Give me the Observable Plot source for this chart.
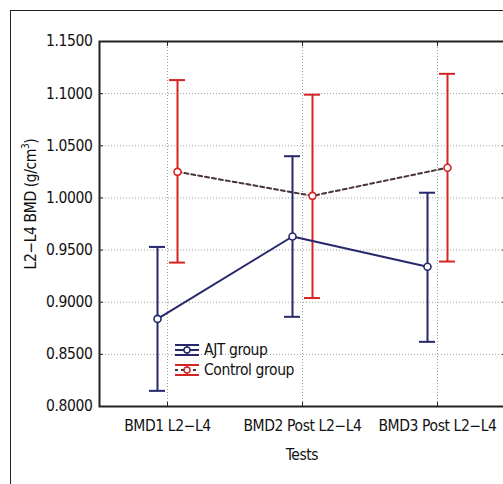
<!DOCTYPE html>
<html>
<head>
<meta charset="utf-8">
<script src="https://cdn.jsdelivr.net/npm/d3@7"></script>
<script src="https://cdn.jsdelivr.net/npm/@observablehq/plot@0.6"></script>
<style>
  html, body { margin: 0; padding: 0; background: #fff; overflow: hidden; }
  #wrap { position: relative; width: 503px; height: 484px; overflow: hidden;
    font-family: "Liberation Sans Narrow", "DejaVu Sans Condensed", sans-serif; color: #111; letter-spacing: -0.4px; }
  #border { position: absolute; left: 10px; top: 10px; width: 700px; height: 700px; border: 1px solid #222; pointer-events: none; }
  #chart { position: absolute; left: 0; top: 0; }
  #chart svg { max-width: none !important; }
  .lbl { position: absolute; font-size: 15.5px; white-space: nowrap; }
  #ylab { left: 30px; top: 204px; transform: translate(-50%, -50%) rotate(-90deg); }
  #xlab { left: 302px; top: 455px; transform: translate(-50%, -50%); }
  #legend { position: absolute; left: 174px; top: 340px; font-size: 15.5px; line-height: 20px; }
  #legend div { display: flex; align-items: center; height: 20px; }
  #legend svg { margin-right: 4px; }
</style>
</head>
<body>
<div id="wrap">
  <div id="chart"></div>
  <div id="border"></div>
  <div class="lbl" id="ylab">L2−L4 BMD (g/cm<sup style="font-size:10px">3</sup>)</div>
  <div class="lbl" id="xlab">Tests</div>
  <div id="legend"></div>
</div>
<script>
const tests = ["BMD1 L2−L4", "BMD2 Post L2−L4", "BMD3 Post L2−L4"];
const groups = ["AJT group", "Control group"];
const ajtMean = [0.884, 0.963, 0.934];
const ajtLow  = [0.815, 0.886, 0.862];
const ajtHigh = [0.953, 1.040, 1.005];
const ctlMean = [1.025, 1.002, 1.029];
const ctlLow  = [0.938, 0.904, 0.939];
const ctlHigh = [1.113, 1.099, 1.119];
const yTicks = [0.80, 0.85, 0.90, 0.95, 1.00, 1.05, 1.10, 1.15];

const NAVY = "#26286a", RED = "#d42424";

const ajt = tests.map((t, i) => ({test: t, mean: ajtMean[i], low: ajtLow[i], high: ajtHigh[i]}));
const ctl = tests.map((t, i) => ({test: t, mean: ctlMean[i], low: ctlLow[i], high: ctlHigh[i]}));

function groupMarks(rows, color, dx, dashed) {
  return [
    Plot.ruleX(rows, {x: "test", y1: "low", y2: "high", dx, stroke: color, strokeWidth: 2}),
    Plot.tickY(rows, {x: "test", y: "low", dx, stroke: color, strokeWidth: 2}),
    Plot.tickY(rows, {x: "test", y: "high", dx, stroke: color, strokeWidth: 2}),
    dashed
      ? Plot.line(rows, {x: "test", y: "mean", dx, stroke: "#4a3434", strokeWidth: 2, strokeDasharray: "4,3"})
      : Plot.line(rows, {x: "test", y: "mean", dx, stroke: color, strokeWidth: 2}),
    Plot.dot(rows, {x: "test", y: "mean", dx, r: 3.5, fill: "white", stroke: color, strokeWidth: 1.6})
  ];
}

const fontSize = 15.5;
const chart = Plot.plot({
  width: 510,
  height: 484,
  marginLeft: 99,
  marginRight: 5,
  marginTop: 41,
  marginBottom: 78,
  style: {fontFamily: '"Liberation Sans Narrow", "DejaVu Sans Condensed", sans-serif', background: "transparent", color: "#111", letterSpacing: "-0.4px", maxWidth: "none"},
  x: {type: "band", domain: tests, paddingInner: 0.88, paddingOuter: 0.44},
  y: {domain: [0.80, 1.15]},
  marks: [
    Plot.gridY(yTicks, {stroke: "#888", strokeOpacity: 0.8, strokeDasharray: "1,2"}),
    Plot.gridX(tests, {stroke: "#888", strokeOpacity: 0.8, strokeDasharray: "1,2"}),
    Plot.axisY(yTicks, {tickSize: -4, tickPadding: 11, tickFormat: d => d.toFixed(4), fontSize, label: null, stroke: "#222"}),
    Plot.axisY(yTicks, {anchor: "right", tickSize: -4, tickFormat: () => "", label: null, stroke: "#222"}),
    Plot.axisX(tests, {tickSize: -4, tickPadding: 17.5, fontSize, label: null, stroke: "#222"}),
    Plot.axisX(tests, {anchor: "top", tickSize: -4, tickFormat: () => "", label: null, stroke: "#222"}),
    Plot.frame({stroke: "#222", strokeWidth: 2}),
    ...groupMarks(ctl, RED, 10, true),
    ...groupMarks(ajt, NAVY, -10, false)
  ]
});
document.getElementById("chart").appendChild(chart);

// legend
const legend = document.getElementById("legend");
[[groups[0], NAVY, false], [groups[1], RED, true]].forEach(([name, color, dashed]) => {
  const row = document.createElement("div");
  row.innerHTML = `<svg width="26" height="16" viewBox="0 0 26 16">
    <line x1="1" x2="25" y1="3" y2="3" stroke="${color}" stroke-width="2"/>
    <line x1="1" x2="25" y1="13" y2="13" stroke="${color}" stroke-width="2"/>
    <line x1="1" x2="25" y1="8" y2="8" stroke="${dashed ? "#4a3434" : color}" stroke-width="2" ${dashed ? 'stroke-dasharray="3,3"' : ""}/>
    <line x1="13" x2="13" y1="3" y2="13" stroke="${color}" stroke-width="1.5"/>
    <circle cx="13" cy="8" r="3" fill="white" stroke="${color}" stroke-width="1.5"/>
  </svg><span>${name}</span>`;
  legend.appendChild(row);
});
</script>
</body>
</html>
